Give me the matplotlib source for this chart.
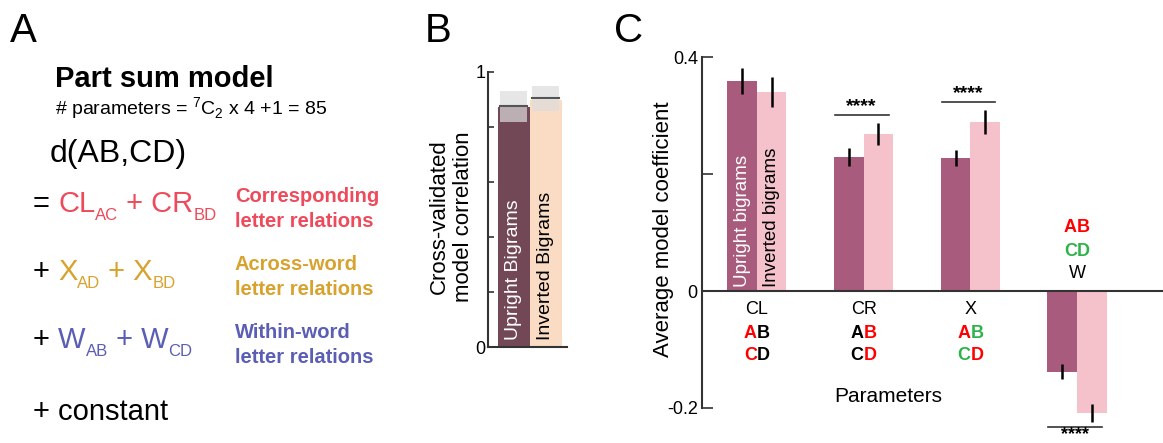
import matplotlib
matplotlib.use("Agg")
import matplotlib.pyplot as plt
import numpy as np

plt.rcParams['font.family'] = ['Liberation Sans', 'DejaVu Sans']
plt.rcParams['mathtext.fontset'] = 'custom'
plt.rcParams['mathtext.rm'] = 'Liberation Sans'
plt.rcParams['mathtext.bf'] = 'Liberation Sans:bold'

# panel B data
b_groups = ['Upright Bigrams', 'Inverted Bigrams']
b_corr = [0.873, 0.898]
b_ceil = [0.876, 0.905]
b_ceil_lo = [0.818, 0.858]
b_ceil_hi = [0.931, 0.949]

# panel C data
c_params = ['CL', 'CR', 'X', 'W']
c_upright = [0.359, 0.229, 0.227, -0.138]
c_upright_err = [0.022, 0.015, 0.014, 0.013]
c_inverted = [0.340, 0.268, 0.289, -0.209]
c_inverted_err = [0.026, 0.019, 0.020, 0.015]
c_sig = [False, True, True, True]

W, H = 1163, 443
fig = plt.figure(figsize=(W / 100, H / 100), dpi=100)
renderer = fig.canvas.get_renderer()

def px(x, y):
    return x / W, 1 - y / H

RED = '#EE4A5B'
GOLD = '#D8A22E'
BLUE = '#5B5EB4'
dark = '#333333'

# write text made of pieces, some of them subscripts
def seq(x, y, parts, color, fs=21, sub_fs=12, drop=8):
    for s, sub in parts:
        t = fig.text(*px(x, y + (drop if sub else 0)), s, fontsize=sub_fs if sub else fs,
                     va='baseline', ha='left', color=color)
        x = t.get_window_extent(renderer).x1

# panel letters
for lab, x in [('A', 10), ('B', 425), ('C', 614)]:
    fig.text(*px(x, 42), lab, fontsize=29, va='baseline', ha='left')

# ---- panel A: model equation
fig.text(*px(55, 87), 'Part sum model', fontsize=21, fontweight='bold', va='baseline')
fig.text(*px(55, 115), r'# parameters = ${}^{7}\mathrm{C}_{2}$ x 4 +1 = 85', fontsize=14, va='baseline')
fig.text(*px(50, 162), 'd(AB,CD)', fontsize=23, va='baseline')

rows = [
    ('=', [('CL', 0), ('AC', 1), (' + CR', 0), ('BD', 1)], RED, 212, ['Corresponding', 'letter relations'], 202),
    ('+', [('X', 0), ('AD', 1), (' + X', 0), ('BD', 1)], GOLD, 280, ['Across-word', 'letter relations'], 270),
    ('+', [('W', 0), ('AB', 1), (' + W', 0), ('CD', 1)], BLUE, 348, ['Within-word', 'letter relations'], 338),
]
for sign, parts, col, yb, desc, yd in rows:
    fig.text(*px(33, yb), sign, fontsize=21, va='baseline')
    seq(58, yb, parts, col)
    for k, line in enumerate(desc):
        fig.text(*px(235, yd + 25 * k), line, fontsize=14.5, fontweight='bold', color=col, va='baseline')
fig.text(*px(33, 420), '+ constant', fontsize=21, va='baseline')

# ---- panel B: model fit
axb = fig.add_axes([488 / W, 1 - 347 / H, (567 - 488) / W, (347 - 72) / H])
xb = np.arange(len(b_groups))
axb.bar(xb, b_corr, width=1.0, color=['#734856', '#FADCC5'], zorder=1)
for i in xb:
    axb.add_patch(plt.Rectangle((i - 0.43, b_ceil_lo[i]), 0.86, b_ceil_hi[i] - b_ceil_lo[i],
                                facecolor='#DCDCDC', alpha=0.7, edgecolor='none', zorder=2))
    axb.plot([i - 0.43, i + 0.43], [b_ceil[i], b_ceil[i]], color='#555555', lw=1.5, zorder=3)
axb.text(0, 0.025, b_groups[0], rotation=90, ha='center', va='bottom', color='white', fontsize=14)
axb.text(1, 0.025, b_groups[1], rotation=90, ha='center', va='bottom', color='black', fontsize=14)
axb.set_xlim(-0.8, 1.67)
axb.set_ylim(0, 1)
axb.set_yticks(np.linspace(0, 1, 6))
axb.set_yticklabels(['0', '', '', '', '', '1'])
axb.set_xticks([])
axb.tick_params(axis='y', direction='in', length=4, width=1.2, color=dark, labelsize=13, pad=2)
for s in ['top', 'right']:
    axb.spines[s].set_visible(False)
for s in ['left', 'bottom']:
    axb.spines[s].set_color(dark)
    axb.spines[s].set_linewidth(1.5)
fig.text(*px(451, 217), 'Cross-validated\nmodel correlation', rotation=90, ha='center', va='center',
         fontsize=16, multialignment='center', linespacing=1.2)

# ---- panel C: coefficients
y_low = -(443 - 291) / 585.0
axc = fig.add_axes([702 / W, 0, (W - 702) / W, (443 - 57) / H])
xc = np.arange(1, len(c_params) + 1)
bw = 0.277
axc.bar(xc - bw / 2, c_upright, width=bw, color='#A95B7E', zorder=1)
axc.bar(xc + bw / 2, c_inverted, width=bw, color='#F5C2CC', zorder=1)
axc.errorbar(xc - bw / 2, c_upright, yerr=c_upright_err, fmt='none', ecolor='black', elinewidth=1.8, capsize=0, zorder=3)
axc.errorbar(xc + bw / 2, c_inverted, yerr=c_inverted_err, fmt='none', ecolor='black', elinewidth=1.8, capsize=0, zorder=3)
axc.axhline(0, color=dark, lw=1.5, zorder=2)
axc.set_xlim(0.485, 4.806)
axc.set_ylim(y_low, 0.4)
axc.set_yticks([-0.2, 0, 0.2, 0.4])
axc.set_yticklabels(['-0.2', '0', '', '0.4'])
axc.set_xticks([])
axc.tick_params(axis='y', direction='in', length=8, width=1.2, color=dark, labelsize=13, pad=3)
for s in ['top', 'right', 'bottom']:
    axc.spines[s].set_visible(False)
axc.spines['left'].set_color(dark)
axc.spines['left'].set_linewidth(1.5)
axc.spines['left'].set_bounds(-0.2, 0.4)

axc.text(1 - bw / 2, 0.007, 'Upright bigrams', rotation=90, ha='center', va='bottom', color='white', fontsize=13.5)
axc.text(1 + bw / 2, 0.007, 'Inverted bigrams', rotation=90, ha='center', va='bottom', color='black', fontsize=13.5)

# significance bars
for i, x in enumerate(xc):
    if not c_sig[i]:
        continue
    if c_inverted[i] > 0:
        top = max(c_upright[i] + c_upright_err[i], c_inverted[i] + c_inverted_err[i])
        yl = top + 0.014
        ys = yl + 0.006
        fs = 14
    else:
        bot = min(c_upright[i] - c_upright_err[i], c_inverted[i] - c_inverted_err[i])
        yl = bot - 0.009
        ys = yl - 0.021
        fs = 13
    axc.plot([x - 0.27, x + 0.235], [yl, yl], color=dark, lw=1.2, clip_on=False)
    axc.text(x - 0.02, ys, '****', ha='center', va='baseline', fontsize=fs, fontweight='bold', clip_on=False)

# parameter labels (letter pairs coloured by the relation they code)
GREEN = '#2DB34A'
pair_cols = {
    'CL': [('A', 'red'), ('B', 'black'), ('C', 'red'), ('D', 'black')],
    'CR': [('A', 'black'), ('B', 'red'), ('C', 'black'), ('D', 'red')],
    'X': [('A', 'red'), ('B', GREEN), ('C', GREEN), ('D', 'red')],
    'W': [('A', 'red'), ('B', 'red'), ('C', GREEN), ('D', GREEN)],
}
def dy(p):
    return -(p - 291) / 585.0

for i, (x, name) in enumerate(zip(xc, c_params)):
    cols = pair_cols[name]
    if name == 'W':
        ys = [dy(228), dy(251)]
        axc.text(x, dy(274), name, ha='center', va='center', fontsize=13)
    else:
        axc.text(x, dy(309), name, ha='center', va='center', fontsize=13)
        ys = [dy(333), dy(355)]
    for row in range(2):
        l1, c1 = cols[2 * row]
        l2, c2 = cols[2 * row + 1]
        axc.text(x, ys[row], l1, ha='right', va='center', fontsize=13, fontweight='bold', color=c1)
        axc.text(x, ys[row], l2, ha='left', va='center', fontsize=13, fontweight='bold', color=c2)

fig.text(*px(888, 397), 'Parameters', ha='center', va='center', fontsize=15)
fig.text(*px(664, 229), 'Average model coefficient', rotation=90, ha='center', va='center', fontsize=16)

fig.savefig('out.png', dpi=100)
